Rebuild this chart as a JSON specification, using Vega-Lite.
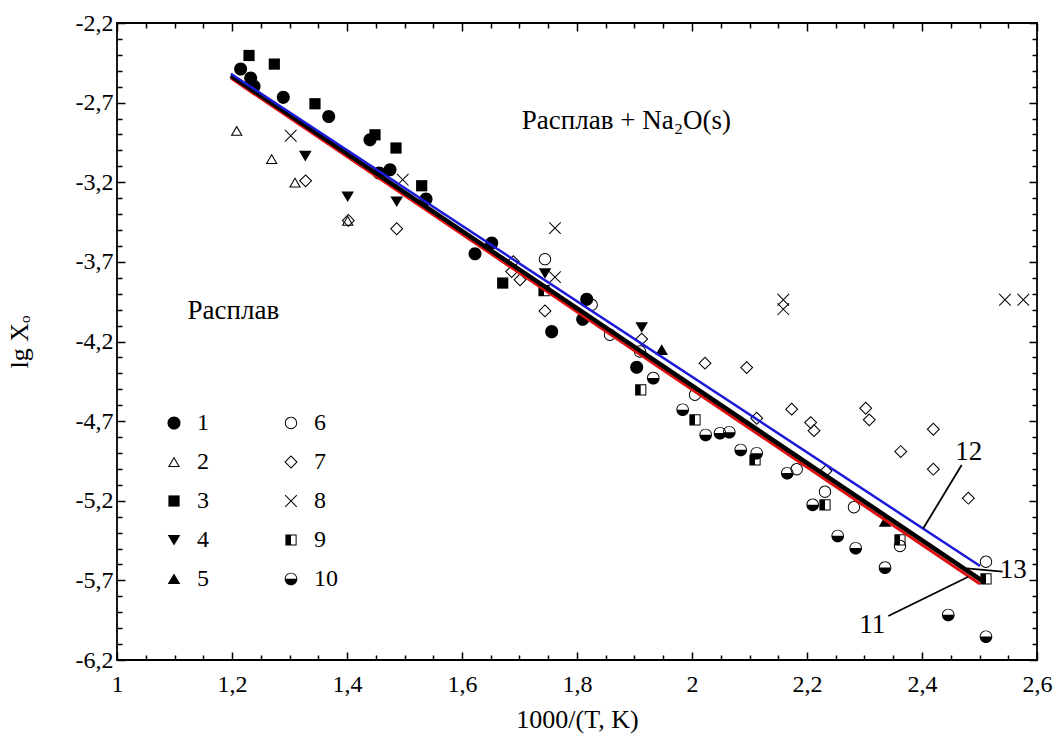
{
 "$schema": "https://vega.github.io/schema/vega-lite/v6.json",
 "width": 920, "height": 637,
 "autosize": {"type": "none"},
 "padding": {"left": 117, "top": 23, "right": 19, "bottom": 75},
 "background": "white",
 "config": {
  "view": {"stroke": "black", "strokeWidth": 1.8},
  "axis": {"labelFont": "Liberation Serif", "labelFontSize": 24, "labelColor": "black", "titleFont": "Liberation Serif", "titleFontSize": 26, "titleFontWeight": "normal", "titleColor": "black", "tickColor": "black", "tickWidth": 1.5, "domain": false, "grid": false, "labelFlush": false, "labelOverlap": false}
 },
 "datasets": {
  "pts": [
   {"s":"1","x":1.215,"y":-2.489},{"s":"1","x":1.2325,"y":-2.546},{"s":"1","x":1.2383,"y":-2.598},{"s":"1","x":1.2892,"y":-2.667},{"s":"1","x":1.3682,"y":-2.787},{"s":"1","x":1.44,"y":-2.933},{"s":"1","x":1.456,"y":-3.142},{"s":"1","x":1.4748,"y":-3.122},{"s":"1","x":1.5374,"y":-3.306},{"s":"1","x":1.6517,"y":-3.582},{"s":"1","x":1.6226,"y":-3.649},{"s":"1","x":1.8169,"y":-3.934},{"s":"1","x":1.8099,"y":-4.06},{"s":"1","x":1.756,"y":-4.138},{"s":"1","x":1.9038,"y":-4.361},
   {"s":"2","x":1.2082,"y":-2.877},{"s":"2","x":1.269,"y":-3.054},{"s":"2","x":1.3096,"y":-3.201},{"s":"2","x":1.4012,"y":-3.442},
   {"s":"3","x":1.2296,"y":-2.404},{"s":"3","x":1.2736,"y":-2.458},{"s":"3","x":1.3443,"y":-2.707},{"s":"3","x":1.4487,"y":-2.902},{"s":"3","x":1.4852,"y":-2.985},{"s":"3","x":1.5299,"y":-3.222},{"s":"3","x":1.6708,"y":-3.833},
   {"s":"4","x":1.3275,"y":-3.034},{"s":"4","x":1.4012,"y":-3.289},{"s":"4","x":1.4864,"y":-3.321},{"s":"4","x":1.7443,"y":-3.771},{"s":"4","x":1.9125,"y":-4.11},
   {"s":"5","x":1.9473,"y":-4.253},{"s":"5","x":2.3357,"y":-5.331},
   {"s":"6","x":1.7443,"y":-3.683},{"s":"6","x":1.8256,"y":-3.97},{"s":"6","x":1.8574,"y":-4.158},{"s":"6","x":1.9096,"y":-4.263},{"s":"6","x":2.0052,"y":-4.535},{"s":"6","x":2.1821,"y":-5.002},{"s":"6","x":2.2313,"y":-5.143},{"s":"6","x":2.2817,"y":-5.241},{"s":"6","x":2.3617,"y":-5.484},{"s":"6","x":2.5113,"y":-5.583},
   {"s":"7","x":1.328,"y":-3.191},{"s":"7","x":1.4023,"y":-3.44},{"s":"7","x":1.4864,"y":-3.492},{"s":"7","x":1.6892,"y":-3.698},{"s":"7","x":1.6864,"y":-3.761},{"s":"7","x":1.7009,"y":-3.813},{"s":"7","x":1.7443,"y":-4.008},{"s":"7","x":1.9125,"y":-4.185},{"s":"7","x":2.0226,"y":-4.336},{"s":"7","x":2.0951,"y":-4.364},{"s":"7","x":2.1125,"y":-4.682},{"s":"7","x":2.1734,"y":-4.625},{"s":"7","x":2.2064,"y":-4.709},{"s":"7","x":2.2122,"y":-4.76},{"s":"7","x":2.233,"y":-5.013},{"s":"7","x":2.3021,"y":-4.619},{"s":"7","x":2.3083,"y":-4.692},{"s":"7","x":2.363,"y":-4.891},{"s":"7","x":2.4197,"y":-4.751},{"s":"7","x":2.4197,"y":-5.002},{"s":"7","x":2.4806,"y":-5.184},
   {"s":"8","x":1.3021,"y":-2.908},{"s":"8","x":1.4969,"y":-3.184},{"s":"8","x":1.7617,"y":-3.488},{"s":"8","x":1.7617,"y":-3.796},{"s":"8","x":2.1588,"y":-3.938},{"s":"8","x":2.1588,"y":-3.997},{"s":"8","x":2.5443,"y":-3.938},{"s":"8","x":2.5762,"y":-3.938},
   {"s":"9","x":1.7426,"y":-3.88},{"s":"9","x":1.9108,"y":-4.504},{"s":"9","x":2.0052,"y":-4.692},{"s":"9","x":2.1096,"y":-4.944},{"s":"9","x":2.2313,"y":-5.226},{"s":"9","x":2.3617,"y":-5.446},{"s":"9","x":2.5113,"y":-5.691},
   {"s":"10","x":1.9327,"y":-4.43},{"s":"10","x":1.9838,"y":-4.629},{"s":"10","x":2.0238,"y":-4.787},{"s":"10","x":2.0487,"y":-4.776},{"s":"10","x":2.0649,"y":-4.77},{"s":"10","x":2.0847,"y":-4.881},{"s":"10","x":2.1125,"y":-4.902},{"s":"10","x":2.1657,"y":-5.027},{"s":"10","x":2.2099,"y":-5.226},{"s":"10","x":2.2534,"y":-5.421},{"s":"10","x":2.2847,"y":-5.498},{"s":"10","x":2.3357,"y":-5.62},{"s":"10","x":2.4457,"y":-5.917},{"s":"10","x":2.5113,"y":-6.054}
  ],
  "lines": [
   {"line":"13","x":1.198,"y":-2.546},{"line":"13","x":2.501,"y":-5.723},
   {"line":"11","x":1.198,"y":-2.53},{"line":"11","x":2.507,"y":-5.708},
   {"line":"12","x":1.198,"y":-2.519},{"line":"12","x":2.501,"y":-5.61}
  ],
  "leaders": [
   {"x":2.469,"y":-4.975,"x2":2.4023,"y2":-5.373},
   {"x":2.3414,"y":-5.924,"x2":2.4806,"y2":-5.677},
   {"x":2.5403,"y":-5.645,"x2":2.4777,"y2":-5.624}
  ],
  "labels": [
   {"x":1.886,"y":-2.866,"t":"Расплав + Na₂O(s)"},
   {"x":1.2023,"y":-4.058,"t":"Расплав"},
   {"x":2.4812,"y":-4.944,"t":"12"},
   {"x":2.3136,"y":-6.032,"t":"11"},
   {"x":2.5588,"y":-5.687,"t":"13"}
  ]
 },
 "layer": [
  {
   "data": {"name": "pts"},
   "mark": {"type": "point", "filled": true, "color": "black", "size": 196, "strokeWidth": 0, "opacity": 1},
   "encoding": {
    "x": {"field": "x", "type": "quantitative", "scale": {"domain": [1, 2.6], "nice": false, "zero": false},
      "axis": {"orient": "bottom", "values": [1,1.2,1.4,1.6,1.8,2,2.2,2.4,2.6], "tickSize": -8, "labelPadding": 20, "labelExpr": "replace(datum.value + '', '.', ',')", "title": "1000/(T, K)", "titlePadding": 10}},
    "y": {"field": "y", "type": "quantitative", "scale": {"domain": [-6.2, -2.2], "nice": false, "zero": false},
      "axis": {"orient": "left", "values": [-2.2,-2.7,-3.2,-3.7,-4.2,-4.7,-5.2,-5.7,-6.2], "tickSize": -8, "labelPadding": 12, "labelExpr": "replace(datum.value + '', '.', ',')", "title": "lg Xₒ", "titlePadding": 43}},
    "shape": {"field": "s", "type": "nominal",
      "scale": {"domain": ["1","2","3","4","5","6","7","8","9","10"],
        "range": [
         "M-0.93,0A0.93,0.93 0 1,1 0.93,0A0.93,0.93 0 1,1 -0.93,0Z",
         "M0,-0.75L0.86,0.72L-0.86,0.72ZM0,-0.453L-0.599,0.57L0.599,0.57Z",
         "M-0.8,-0.8L0.8,-0.8L0.8,0.8L-0.8,0.8Z",
         "M-0.9,-0.72L0.9,-0.72L0,0.8Z",
         "M0,-0.8L0.9,0.72L-0.9,0.72Z",
         "M-0.88,0A0.88,0.88 0 1,1 0.88,0A0.88,0.88 0 1,1 -0.88,0ZM-0.74,0A0.74,0.74 0 1,0 0.74,0A0.74,0.74 0 1,0 -0.74,0Z",
         "M0,-0.95L0.95,0L0,0.95L-0.95,0ZM0,-0.74L-0.74,0L0,0.74L0.74,0Z",
         "M-0.78,-0.88L0.88,0.78L0.78,0.88L-0.88,-0.78ZM-0.88,0.78L0.78,-0.88L0.88,-0.78L-0.78,0.88Z",
         "M-0.8,-0.8L0.8,-0.8L0.8,0.8L-0.8,0.8ZM0,-0.66L0,0.66L0.66,0.66L0.66,-0.66Z",
         "M-0.9,0A0.9,0.9 0 1,1 0.9,0A0.9,0.9 0 1,1 -0.9,0ZM-0.76,-0.02L0.76,-0.02A0.76,0.76 0 0,0 -0.76,-0.02Z"
        ]},
      "legend": {"orient": "none", "legendX": 45, "legendY": 388, "columns": 2, "title": null, "padding": 0,
        "labelFont": "Liberation Serif", "labelFontSize": 24, "labelColor": "black", "labelOffset": 11,
        "symbolSize": 196, "symbolFillColor": "black", "symbolStrokeColor": "black", "symbolStrokeWidth": 0, "symbolOpacity": 1,
        "rowPadding": 15, "columnPadding": 70}}
   }
  },
  {
   "data": {"name": "lines"},
   "transform": [{"filter": "datum.line === '13'"}],
   "mark": {"type": "line", "color": "#e01010", "strokeWidth": 3},
   "encoding": {
    "x": {"field": "x", "type": "quantitative", "scale": {"domain": [1, 2.6], "nice": false, "zero": false},
      "axis": {"orient": "bottom", "values": [1.05,1.1,1.15,1.25,1.3,1.35,1.45,1.5,1.55,1.65,1.7,1.75,1.85,1.9,1.95,2.05,2.1,2.15,2.25,2.3,2.35,2.45,2.5,2.55], "tickSize": -5, "labels": false, "title": null}},
    "y": {"field": "y", "type": "quantitative", "scale": {"domain": [-6.2, -2.2], "nice": false, "zero": false},
      "axis": {"orient": "left", "values": [-2.3,-2.4,-2.5,-2.6,-2.8,-2.9,-3,-3.1,-3.3,-3.4,-3.5,-3.6,-3.8,-3.9,-4,-4.1,-4.3,-4.4,-4.5,-4.6,-4.8,-4.9,-5,-5.1,-5.3,-5.4,-5.5,-5.6,-5.8,-5.9,-6,-6.1], "tickSize": -5, "labels": false, "title": null}}
   }
  },
  {
   "data": {"name": "lines"},
   "transform": [{"filter": "datum.line === '11'"}],
   "mark": {"type": "line", "color": "black", "strokeWidth": 4.5},
   "encoding": {
    "x": {"field": "x", "type": "quantitative", "scale": {"domain": [1, 2.6], "nice": false, "zero": false},
      "axis": {"orient": "top", "values": [1,1.2,1.4,1.6,1.8,2,2.2,2.4,2.6], "tickSize": -8, "labels": false, "title": null}},
    "y": {"field": "y", "type": "quantitative", "scale": {"domain": [-6.2, -2.2], "nice": false, "zero": false},
      "axis": {"orient": "right", "values": [-2.2,-2.7,-3.2,-3.7,-4.2,-4.7,-5.2,-5.7,-6.2], "tickSize": -8, "labels": false, "title": null}}
   }
  },
  {
   "data": {"name": "lines"},
   "transform": [{"filter": "datum.line === '12'"}],
   "mark": {"type": "line", "color": "#1a1ad8", "strokeWidth": 2.5},
   "encoding": {
    "x": {"field": "x", "type": "quantitative", "scale": {"domain": [1, 2.6], "nice": false, "zero": false},
      "axis": {"orient": "top", "values": [1.05,1.1,1.15,1.25,1.3,1.35,1.45,1.5,1.55,1.65,1.7,1.75,1.85,1.9,1.95,2.05,2.1,2.15,2.25,2.3,2.35,2.45,2.5,2.55], "tickSize": -5, "labels": false, "title": null}},
    "y": {"field": "y", "type": "quantitative", "scale": {"domain": [-6.2, -2.2], "nice": false, "zero": false},
      "axis": {"orient": "right", "values": [-2.3,-2.4,-2.5,-2.6,-2.8,-2.9,-3,-3.1,-3.3,-3.4,-3.5,-3.6,-3.8,-3.9,-4,-4.1,-4.3,-4.4,-4.5,-4.6,-4.8,-4.9,-5,-5.1,-5.3,-5.4,-5.5,-5.6,-5.8,-5.9,-6,-6.1], "tickSize": -5, "labels": false, "title": null}}
   }
  },
  {
   "data": {"name": "leaders"},
   "mark": {"type": "rule", "color": "black", "strokeWidth": 1.8},
   "encoding": {
    "x": {"field": "x", "type": "quantitative", "scale": {"domain": [1, 2.6], "nice": false, "zero": false}, "axis": null},
    "y": {"field": "y", "type": "quantitative", "scale": {"domain": [-6.2, -2.2], "nice": false, "zero": false}, "axis": null},
    "x2": {"field": "x2"},
    "y2": {"field": "y2"}
   }
  },
  {
   "data": {"name": "labels"},
   "mark": {"type": "text", "font": "Liberation Serif", "fontSize": 27, "align": "center", "baseline": "alphabetic", "color": "black"},
   "encoding": {
    "x": {"field": "x", "type": "quantitative", "scale": {"domain": [1, 2.6], "nice": false, "zero": false}, "axis": null},
    "y": {"field": "y", "type": "quantitative", "scale": {"domain": [-6.2, -2.2], "nice": false, "zero": false}, "axis": null},
    "text": {"field": "t"}
   }
  }
 ],
 "resolve": {"axis": {"x": "independent", "y": "independent"}}
}
